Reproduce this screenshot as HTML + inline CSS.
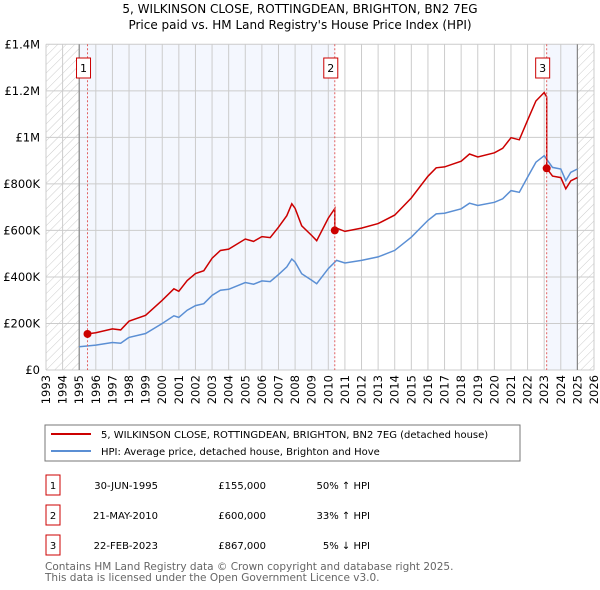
<!DOCTYPE html>
<html><head><meta charset="utf-8">
<style>
body{margin:0;background:#fff;font-family:"Liberation Sans","DejaVu Sans",sans-serif;}
#wrap{position:relative;width:600px;height:590px;overflow:hidden;}
.t{font-family:"DejaVu Sans","Liberation Sans",sans-serif;}
</style></head>
<body><div id="wrap">
<svg id="chart" width="600" height="590" xmlns="http://www.w3.org/2000/svg">
<defs><pattern id="hatch" width="6" height="6" patternUnits="userSpaceOnUse" patternTransform="rotate(45)"><line x1="0" y1="0" x2="0" y2="6" stroke="#cccccc" stroke-width="1"/></pattern></defs>
<text class="t" x="300" y="13" text-anchor="middle" font-size="12">5, WILKINSON CLOSE, ROTTINGDEAN, BRIGHTON, BN2 7EG</text>
<text class="t" x="300" y="29" text-anchor="middle" font-size="12">Price paid vs. HM Land Registry's House Price Index (HPI)</text>
<g id="bg"></g><g id="grid"></g><g id="lines"></g><g id="marks"></g><g id="axes"></g>

<rect x="45" y="425" width="475" height="36" fill="#fff" stroke="#777"/>
<line x1="51" y1="434" x2="91" y2="434" stroke="#cc0000" stroke-width="2"/>
<text class="t" x="101" y="438" font-size="10">5, WILKINSON CLOSE, ROTTINGDEAN, BRIGHTON, BN2 7EG (detached house)</text>
<line x1="51" y1="451" x2="91" y2="451" stroke="#5b8fd4" stroke-width="2"/>
<text class="t" x="101" y="455" font-size="10">HPI: Average price, detached house, Brighton and Hove</text>

<g font-size="10" class="t">
<rect x="46" y="475" width="14" height="20" fill="#fff" stroke="#cc0000"/><text x="53" y="489" text-anchor="middle">1</text>
<text x="158" y="489" text-anchor="end">30-JUN-1995</text>
<text x="266" y="489" text-anchor="end">£155,000</text>
<text x="370" y="489" text-anchor="end">50% ↑ HPI</text>
<rect x="46" y="505" width="14" height="20" fill="#fff" stroke="#cc0000"/><text x="53" y="519" text-anchor="middle">2</text>
<text x="158" y="519" text-anchor="end">21-MAY-2010</text>
<text x="266" y="519" text-anchor="end">£600,000</text>
<text x="370" y="519" text-anchor="end">33% ↑ HPI</text>
<rect x="46" y="535" width="14" height="20" fill="#fff" stroke="#cc0000"/><text x="53" y="549" text-anchor="middle">3</text>
<text x="158" y="549" text-anchor="end">22-FEB-2023</text>
<text x="266" y="549" text-anchor="end">£867,000</text>
<text x="370" y="549" text-anchor="end">5% ↓ HPI</text>
</g>
<text class="t" x="45" y="570" font-size="10.5" fill="#666">Contains HM Land Registry data © Crown copyright and database right 2025.</text>
<text class="t" x="45" y="581" font-size="10.5" fill="#666">This data is licensed under the Open Government Licence v3.0.</text>
</svg>
<script>
const hpiYears=[1995,1996,1997,1997.5,1998,1999,2000,2000.7,2001,2001.5,2002,2002.5,2003,2003.5,2004,2005,2005.5,2006,2006.5,2007,2007.5,2007.8,2008,2008.4,2009,2009.3,2010,2010.5,2011,2012,2013,2014,2015,2016,2016.5,2017,2018,2018.5,2019,2020,2020.5,2021,2021.5,2022,2022.5,2023,2023.5,2024,2024.3,2024.6,2025];
const hpiValues=[100,107,118,115,140,157,200,233,226,257,277,285,321,343,347,376,369,383,380,410,443,477,464,414,386,371,436,471,460,471,486,514,571,643,671,674,693,717,707,721,736,771,764,829,893,921,871,864,814,850,864];
const saleYears=[1995.5,2010.39,2023.15];
const salePrices=[155,600,867];
const saleLabels=["1","2","3"];
const yTicks=[0,200,400,600,800,1000,1200,1400];
const yTickLabels=["£0","£200K","£400K","£600K","£800K","£1M","£1.2M","£1.4M"];
const xTicks=[1993,1994,1995,1996,1997,1998,1999,2000,2001,2002,2003,2004,2005,2006,2007,2008,2009,2010,2011,2012,2013,2014,2015,2016,2017,2018,2019,2020,2021,2022,2023,2024,2025,2026];

const NS="http://www.w3.org/2000/svg";
const X0=46,X1=594,Y0=370,Y1=44.3;
const xs=y=>X0+(y-1993)/(2026-1993)*(X1-X0);
const ys=v=>Y0-v/1400*(Y0-Y1);
function mk(tag,attrs,parent){const e=document.createElementNS(NS,tag);for(const k in attrs)e.setAttribute(k,attrs[k]);document.getElementById(parent).appendChild(e);return e;}
function hpiAt(t){for(let i=0;i<hpiYears.length-1;i++){if(t<=hpiYears[i+1]){const f=(t-hpiYears[i])/(hpiYears[i+1]-hpiYears[i]);return hpiValues[i]+f*(hpiValues[i+1]-hpiValues[i]);}}return hpiValues[hpiValues.length-1];}

let r=mk('rect',{x:X0,y:Y1,width:X1-X0,height:Y0-Y1,fill:'#fff'},'bg');


r=mk('rect',{x:X0,y:Y1,width:xs(1995)-X0,height:Y0-Y1,fill:'url(#hatch)'},'bg');


r=mk('rect',{x:xs(2025),y:Y1,width:X1-xs(2025),height:Y0-Y1,fill:'url(#hatch)'},'bg');


r=mk('rect',{x:xs(1995),y:Y1,width:xs(saleYears[1])-xs(1995),height:Y0-Y1,fill:'#f4f7fe'},'bg');


r=mk('rect',{x:xs(saleYears[2]),y:Y1,width:xs(2025)-xs(saleYears[2]),height:Y0-Y1,fill:'#f4f7fe'},'bg');



yTicks.forEach((v,i)=>{
  const l=mk('line',{x1:X0,x2:X1,y1:ys(v),y2:ys(v),stroke:'#cccccc','stroke-width':1},'grid');
  
  
  const t=mk('text',{x:40,y:ys(v)+4,'text-anchor':'end','font-size':11.5,class:'t'},'axes');
  t.textContent=yTickLabels[i];
  
  
});
xTicks.forEach(yr=>{
  const l=mk('line',{x1:xs(yr),x2:xs(yr),y1:Y1,y2:Y0,stroke:'#cccccc','stroke-width':1},'grid');
  
  
  const t=mk('text',{x:0,y:0,'text-anchor':'end','font-size':11.5,class:'t',transform:`translate(${xs(yr)+4},375) rotate(-90)`},'axes');
  t.textContent=String(yr);
  
  
});
[1995,2025].forEach(yr=>{
  const l=mk('line',{x1:xs(yr),x2:xs(yr),y1:Y1,y2:Y0,stroke:'#888','stroke-width':1.2},'grid');
  
  
});

const hp=hpiYears.map((y,i)=>`${i?'L':'M'}${xs(y).toFixed(1)},${ys(hpiValues[i]).toFixed(1)}`).join('');
let p=mk('path',{d:hp,fill:'none',stroke:'#5b8fd4','stroke-width':1.5},'lines');



const pts=[];
const times=[saleYears[0]].concat(hpiYears.filter(y=>y>saleYears[0]),saleYears.slice(1)).sort((a,b)=>a-b);
times.forEach(t=>{
  let k=0;for(let j=0;j<saleYears.length;j++)if(t>=saleYears[j])k=j;
  if(saleYears.includes(t)&&k>0){const prevF=salePrices[k-1]/hpiAt(saleYears[k-1]);pts.push([t,hpiAt(t)*prevF]);}
  pts.push([t,hpiAt(t)*salePrices[k]/hpiAt(saleYears[k])]);
});
const rp=pts.map((q,i)=>`${i?'L':'M'}${xs(q[0]).toFixed(1)},${ys(q[1]).toFixed(1)}`).join('');
p=mk('path',{d:rp,fill:'none',stroke:'#cc0000','stroke-width':1.5},'lines');



saleYears.forEach((y,i)=>{
  const l=mk('line',{x1:xs(y),x2:xs(y),y1:Y1,y2:Y0,stroke:'#e06060','stroke-width':1,'stroke-dasharray':'2,2'},'marks');
  
  
  const c=mk('circle',{cx:xs(y),cy:ys(salePrices[i]),r:4,fill:'#cc0000'},'marks');
  
  
  const b=mk('rect',{x:xs(y)-11,y:58,width:14,height:20,fill:'#fff',stroke:'#cc0000'},'marks');
  
  
  const t=mk('text',{x:xs(y)-4,y:72,'text-anchor':'middle','font-size':11,class:'t'},'marks');
  t.textContent=saleLabels[i];
  
  
});
</script>
</div></body></html>
